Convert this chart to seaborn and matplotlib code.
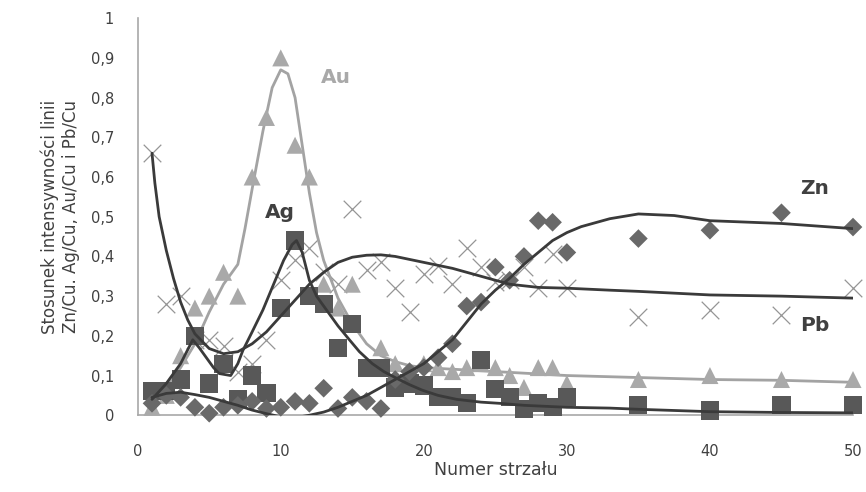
import matplotlib
matplotlib.use("Agg")
import matplotlib.pyplot as plt
import seaborn as sns
from matplotlib.ticker import FuncFormatter

# ── Measured points (shot number → line intensity ratio) ─────────────────────
shots = list(range(1, 31)) + [35, 40, 45, 50]

au_pts = [0.02, 0.05, 0.15, 0.27, 0.30, 0.36, 0.30, 0.60, 0.75, 0.90,
          0.68, 0.60, 0.33, 0.27, 0.33, 0.12, 0.17, 0.13, 0.10, 0.13,
          0.12, 0.11, 0.12, 0.13, 0.12, 0.10, 0.07, 0.12, 0.12, 0.08,
          0.09, 0.10, 0.09, 0.09]

ag_pts = [0.06, 0.06, 0.09, 0.20, 0.08, 0.13, 0.04, 0.10, 0.055, 0.27,
          0.44, 0.30, 0.28, 0.17, 0.23, 0.12, 0.12, 0.07, 0.08, 0.075,
          0.045, 0.045, 0.03, 0.14, 0.065, 0.045, 0.015, 0.03, 0.02, 0.045,
          0.025, 0.012, 0.025, 0.025]

zn_pts = [0.03, 0.05, 0.045, 0.02, 0.005, 0.02, 0.025, 0.035, 0.017, 0.02,
          0.035, 0.03, 0.068, 0.017, 0.045, 0.035, 0.017, 0.09, 0.11, 0.12,
          0.145, 0.18, 0.275, 0.285, 0.373, 0.34, 0.40, 0.49, 0.486, 0.41,
          0.445, 0.466, 0.51, 0.474]

pb_pts = [0.66, 0.28, 0.30, 0.19, 0.19, 0.175, 0.11, 0.13, 0.19, 0.34,
          0.39, 0.42, 0.36, 0.33, 0.52, 0.365, 0.385, 0.32, 0.26, 0.355,
          0.375, 0.33, 0.42, 0.373, 0.335, 0.34, 0.373, 0.32, 0.405, 0.32,
          0.247, 0.264, 0.252, 0.32]

# ── Smoothed trend curves ────────────────────────────────────────────────────
au_cx = [1, 2, 3, 4, 5, 6, 7, 7.5, 8, 8.75, 9.4, 10, 10.5, 11, 11.5, 12,
         12.5, 13, 14, 15, 16, 17, 18, 19, 20, 25, 30, 35, 40, 45, 50]
au_cy = [0.02, 0.07, 0.12, 0.18, 0.26, 0.33, 0.38, 0.47, 0.57, 0.715, 0.825,
         0.87, 0.86, 0.80, 0.68, 0.56, 0.46, 0.39, 0.295, 0.23, 0.18, 0.15,
         0.135, 0.125, 0.12, 0.11, 0.10, 0.095, 0.09, 0.088, 0.083]

ag_cx = [1, 2, 3, 3.85, 4.3, 4.8, 5.3, 5.7, 6.5, 7, 7.35, 8, 8.75, 9.5,
         10.2, 10.8, 11.1, 11.5, 12, 12.5, 13.2, 14, 14.8, 15.5, 16.4, 17.2,
         18.1, 19, 19.9, 21, 22.3, 24, 25.3, 27, 30, 33, 35, 40, 45, 50]
ag_cy = [0.04, 0.08, 0.13, 0.19, 0.17, 0.145, 0.12, 0.105, 0.10, 0.13,
         0.163, 0.21, 0.265, 0.33, 0.39, 0.43, 0.44, 0.41, 0.34, 0.30,
         0.265, 0.225, 0.19, 0.16, 0.13, 0.11, 0.093, 0.077, 0.063, 0.05,
         0.04, 0.033, 0.03, 0.025, 0.02, 0.018, 0.015, 0.009, 0.007, 0.006]

zn_cx = [1, 2, 3, 4, 5, 6, 7, 8, 9, 10, 11, 12, 13, 14, 15, 16, 17, 18,
         19, 20, 21, 22, 23, 24, 25, 26, 27, 28, 29, 30, 31, 33, 35, 37.5,
         40, 45, 50]
zn_cy = [0.045, 0.055, 0.058, 0.052, 0.045, 0.035, 0.025, 0.013, 0.004,
         -0.004, -0.006, 0.0, 0.008, 0.02, 0.035, 0.05, 0.07, 0.09, 0.11,
         0.13, 0.16, 0.19, 0.235, 0.28, 0.315, 0.345, 0.38, 0.41, 0.44,
         0.46, 0.475, 0.495, 0.507, 0.503, 0.49, 0.483, 0.47]

pb_cx = [1, 1.2, 1.5, 2, 2.5, 3, 3.5, 4, 5, 6, 7, 8, 9, 10, 11, 12, 13,
         14, 15, 16, 17, 18, 20, 22, 24, 26, 28, 30, 33, 35, 40, 45, 50]
pb_cy = [0.66, 0.585, 0.50, 0.415, 0.345, 0.285, 0.24, 0.205, 0.168, 0.155,
         0.16, 0.18, 0.21, 0.25, 0.29, 0.33, 0.36, 0.385, 0.398, 0.403,
         0.404, 0.40, 0.385, 0.37, 0.35, 0.33, 0.322, 0.32, 0.315, 0.312,
         0.303, 0.30, 0.295]

# ── Styling ──────────────────────────────────────────────────────────────────
C_AU_MK, C_AU_LN = "#a9a9a9", "#a3a3a3"
C_AG = "#585858"
C_ZN = "#696969"
C_PB = "#959595"
C_LINE = "#3a3a3a"
C_TXT = "#404040"

sns.set_style("white")
plt.rcParams["font.family"] = ["DejaVu Sans"]

fig = plt.figure(figsize=(8.66, 4.92), dpi=100)
ax = fig.add_axes([0.159, 0.156, 0.826, 0.807])

sns.scatterplot(x=shots, y=pb_pts, marker="x", s=160, color=C_PB,
                linewidth=0.9, ax=ax, zorder=2, clip_on=False)
sns.lineplot(x=au_cx, y=au_cy, color=C_AU_LN, lw=2, ax=ax,
             estimator=None, sort=False, zorder=2)
sns.scatterplot(x=shots, y=au_pts, marker="^", s=150, color=C_AU_MK,
                edgecolor="none", ax=ax, zorder=3, clip_on=False)
sns.scatterplot(x=shots, y=ag_pts, marker="s", s=170, color=C_AG,
                edgecolor="none", ax=ax, zorder=3, clip_on=False)
sns.scatterplot(x=shots, y=zn_pts, marker="D", s=90, color=C_ZN,
                edgecolor="none", ax=ax, zorder=4, clip_on=False)

for cx, cy in [(ag_cx, ag_cy), (zn_cx, zn_cy), (pb_cx, pb_cy)]:
    sns.lineplot(x=cx, y=cy, color=C_LINE, lw=2, ax=ax,
                 estimator=None, sort=False, zorder=5)

# series labels
ax.text(12.8, 0.85, "Au", color=C_AU_MK, fontsize=14.5, fontweight="bold",
        ha="left", va="center")
ax.text(8.9, 0.51, "Ag", color=C_TXT, fontsize=14.5, fontweight="bold",
        ha="left", va="center")
ax.text(46.3, 0.57, "Zn", color=C_TXT, fontsize=14.5, fontweight="bold",
        ha="left", va="center")
ax.text(46.3, 0.225, "Pb", color=C_TXT, fontsize=14.5, fontweight="bold",
        ha="left", va="center")

ax.set_xlim(0, 50)
ax.set_ylim(0, 1)
ax.set_xticks(range(0, 51, 10))
ax.set_yticks([i / 10 for i in range(11)])
ax.yaxis.set_major_formatter(
    FuncFormatter(lambda v, _: f"{v:.1f}".replace(".", ",")
                  if v not in (0, 1) else f"{int(v)}"))

for side in ("top", "right"):
    ax.spines[side].set_visible(False)
for side in ("left", "bottom"):
    ax.spines[side].set_color("#a8a8a8")
    ax.spines[side].set_linewidth(1.2)
ax.tick_params(axis="both", direction="out", length=5, color="#a8a8a8",
               labelsize=10.5, labelcolor=C_TXT)
ax.tick_params(axis="x", pad=16)
ax.tick_params(axis="y", pad=12)

ax.set_xlabel("Numer strzału", fontsize=12.5, color=C_TXT, labelpad=1)
ax.set_ylabel("Stosunek intensywności linii\nZn/Cu. Ag/Cu, Au/Cu i Pb/Cu",
              fontsize=12, color=C_TXT, labelpad=8)

fig.savefig("out.png", dpi=100)
